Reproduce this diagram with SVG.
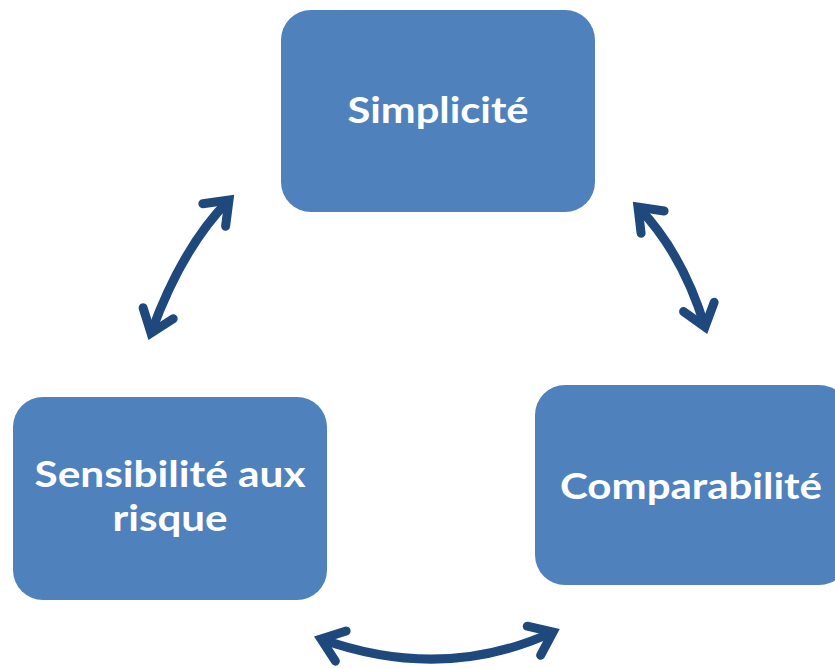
<svg xmlns="http://www.w3.org/2000/svg" width="835" height="668" viewBox="0 0 835 668">
<style>
.box{fill:#4F81BD;}
.lbl{font-family:Lato,"Open Sans","Liberation Sans",sans-serif;font-weight:700;font-size:36px;fill:#FFFFFF;text-anchor:middle;}
.arc{fill:none;stroke:#1F497D;stroke-width:9;stroke-linecap:butt;}
</style>
<defs>
<marker id="ah" viewBox="-32 -22 44 44" refX="0" refY="0" markerWidth="44" markerHeight="44" markerUnits="userSpaceOnUse" orient="auto-start-reverse">
<path d="M -21 -16 L 0 0 L -21 16" fill="none" stroke="#1F497D" stroke-width="9" stroke-linecap="round" stroke-linejoin="miter"/>
</marker>
</defs>
<g id="node-simplicite">
<rect class="box" x="281" y="10" width="314" height="202" rx="30" ry="30"/>
<text class="lbl" x="438" y="123" textLength="181" lengthAdjust="spacingAndGlyphs">Simplicité</text>
</g>
<g id="node-comparabilite">
<rect class="box" x="535" y="385" width="314" height="200" rx="30" ry="30"/>
<text class="lbl" x="691" y="499" textLength="262" lengthAdjust="spacingAndGlyphs">Comparabilité</text>
</g>
<g id="node-sensibilite">
<rect class="box" x="13" y="397" width="314" height="203" rx="30" ry="30"/>
<text class="lbl" x="170" y="487" textLength="271" lengthAdjust="spacingAndGlyphs">Sensibilité aux</text>
<text class="lbl" x="170" y="531" textLength="115" lengthAdjust="spacingAndGlyphs">risque</text>
</g>
<g id="connectors">
<path class="arc" d="M 151 333 Q 182 247.5 229 200" marker-start="url(#ah)" marker-end="url(#ah)"/>
<path class="arc" d="M 638 207 Q 682.5 253 705 327" marker-start="url(#ah)" marker-end="url(#ah)"/>
<path class="arc" d="M 321 639 Q 443 682.5 553 632" marker-start="url(#ah)" marker-end="url(#ah)"/>
</g>
</svg>
